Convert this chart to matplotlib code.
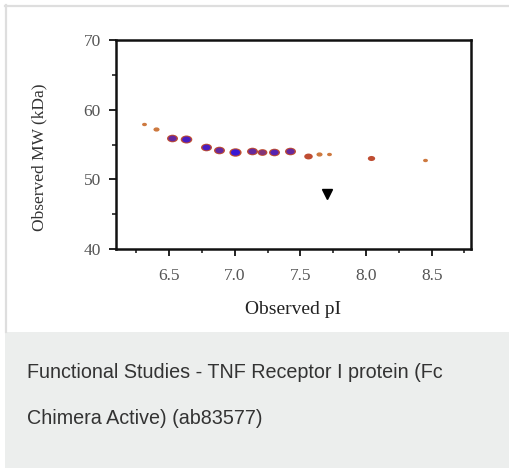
"""
2D gel spot map - TNF Receptor I protein (Fc Chimera Active)
"""

import numpy as np
import matplotlib
matplotlib.use('Agg')
import matplotlib.pyplot as plt
from matplotlib.patches import Rectangle
from matplotlib.path import Path
from matplotlib.transforms import Affine2D
from matplotlib.ticker import MultipleLocator

# --- 数据---
spot_pI = [6.31, 6.40, 6.52, 6.63, 6.78, 6.88, 7.00, 7.13, 7.21, 7.30, 7.42,
           7.56, 7.645, 7.72, 8.04, 8.45]
spot_mw = [57.98, 57.17, 55.97, 55.74, 54.63, 54.25, 53.87, 54.02, 53.96, 53.87,
           54.02, 53.39, 53.59, 53.67, 53.06, 52.73]
# 斑点强度（相对大小）和蓝色核心强度
spot_intensity = [0.40, 0.50, 0.90, 0.95, 0.90, 0.90, 1.00, 0.90, 0.80, 0.90,
                  0.90, 0.70, 0.50, 0.40, 0.60, 0.40]
spot_core = [0.0, 0.0, 0.6, 0.8, 0.8, 0.6, 0.9, 0.6, 0.4, 0.7, 0.6, 0.0, 0.0,
             0.0, 0.0, 0.0]

marker_pI = [7.70]
marker_mw = [47.85]

x_ticks = [6.5, 7.0, 7.5, 8.0, 8.5]
y_ticks = [40, 50, 60, 70]

caption = ['Functional Studies - TNF Receptor I protein (Fc',
           'Chimera Active) (ab83577)']

# ============================================================

W, H = 509, 468
fig = plt.figure(figsize=(W / 100, H / 100), dpi=100)
fig.patch.set_facecolor('white')

# 卡片边框和说明区背景
fig.add_artist(Rectangle((5 / W, 0), 1, 1 - 332 / H, transform=fig.transFigure,
                         facecolor='#eceeed', edgecolor='none', zorder=0))
fig.add_artist(plt.Line2D([5 / W, 1], [1 - 6 / H, 1 - 6 / H], transform=fig.transFigure,
                          color='#dedede', lw=1.6))
fig.add_artist(plt.Line2D([6 / W, 6 / W], [1 - 5 / H, 1 - 332 / H], transform=fig.transFigure,
                          color='#dedede', lw=1.6))

for i, line in enumerate(caption):
    fig.text(27 / W, 1 - (372 + i * 46) / H, line, family='Liberation Sans',
             fontsize=14.2, color='#333333', va='center', ha='left')

ax = fig.add_axes([116 / W, 1 - 249 / H, (471 - 116) / W, (249 - 40) / H])
ax.set_xlim(6.095, 8.8)
ax.set_ylim(40, 70)

# 椭圆形斑点
ellipse = Path.unit_circle().transformed(Affine2D().scale(1.45, 1.0))
sizes = np.array(spot_intensity) * 8.8
core = np.array(spot_core)
for x, y, s, c in zip(spot_pI, spot_mw, sizes, core):
    rim = '#b83a1c' if s > 4.5 else '#c86a2a'
    ax.plot(x, y, marker=ellipse, ms=s, color=rim, mec='none', ls='none', alpha=0.9)
    if c > 0:
        ax.plot(x, y, marker=ellipse, ms=s * 0.75, color='#2a12e6', mec='none',
                ls='none', alpha=c)

ax.plot(marker_pI, marker_mw, marker='v', ms=7, color='black', ls='none')

ax.set_xticks(x_ticks)
ax.set_xticklabels([f'{v:.1f}' for v in x_ticks])
ax.set_yticks(y_ticks)
ax.xaxis.set_minor_locator(MultipleLocator(0.25))
ax.yaxis.set_minor_locator(MultipleLocator(5))
ax.tick_params(which='major', direction='out', length=5, width=1.4, colors='#222222',
               labelcolor='#555555', labelsize=12.5)
ax.tick_params(axis='x', which='major', pad=9)
ax.tick_params(axis='y', which='major', pad=6)
ax.tick_params(which='minor', direction='out', length=3, width=1.2, colors='#222222')
for lab in ax.get_xticklabels() + ax.get_yticklabels():
    lab.set_family('Liberation Serif')
for sp in ax.spines.values():
    sp.set_linewidth(1.8)
    sp.set_color('#111111')

ax.set_xlabel('Observed pI', family='Liberation Serif', fontsize=14, color='#222222',
              labelpad=12)
ax.set_ylabel('Observed MW (kDa)', family='Liberation Serif', fontsize=12.5,
              color='#333333')
ax.yaxis.set_label_coords(-0.194, 0.44)

fig.savefig('out.png', dpi=100)
